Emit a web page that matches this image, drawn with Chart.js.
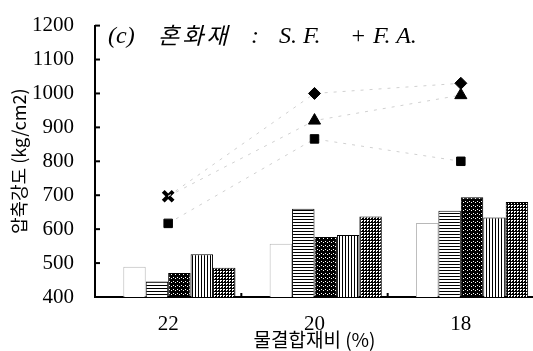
<!DOCTYPE html>
<html>
<head>
<meta charset="utf-8">
<script src="https://cdn.jsdelivr.net/npm/chart.js@4"></script>
<style>
  html, body { margin: 0; padding: 0; background: #fff; overflow: hidden; }
  #wrap { position: relative; width: 545px; height: 351px; }
  #title { position: absolute; left: 0; top: 0; color: #000; }
  #title span {
    position: absolute; top: 21px; white-space: pre;
    font: italic 24px "Liberation Serif", serif; line-height: 28px;
  }
  #title span.ko { font-family: "Noto Sans CJK KR", sans-serif; font-size: 23px; letter-spacing: 3px; top: 20px; }
</style>
</head>
<body>
<div id="wrap">
  <canvas id="chart"></canvas>
  <div id="title"><span style="left:108px">(c)</span><span class="ko" style="left:158px">혼화재</span><span style="left:251px">:</span><span style="left:279px">S. F.</span><span style="left:350px">+</span><span style="left:373px">F. A.</span></div>
</div>
<script>
// 물결합재비 카테고리
const categories = ['22', '20', '18'];

// 막대 (압축강도, kg/cm2) — 첫 계열은 보이지 않음
const bar0 = [null, null, null];
const bar1 = [489, 557, 618];
const bar2 = [446, 660, 654];
const bar3 = [471, 577, 694];
const bar4 = [526, 583, 634];
const bar5 = [486, 637, 680];

// 점 계열
const diamondVals  = [697, 1000, 1030];
const triangleVals = [697, 920, 995];
const squareVals   = [617, 866, 800];
const crossVals    = [697, null, null];

// y축 범위
const Y_MIN = 400, Y_MAX = 1200, Y_STEP = 100;

/* ─── 패턴 ─── */
function makePattern(size, draw) {
  const c = document.createElement('canvas');
  c.width = c.height = size;
  const g = c.getContext('2d');
  g.fillStyle = '#fff';
  g.fillRect(0, 0, size, size);
  g.fillStyle = '#000';
  draw(g, size);
  return document.createElement('canvas').getContext('2d').createPattern(c, 'repeat');
}
const patHoriz = makePattern(3, (g, s) => g.fillRect(0, 0, s, 1));
const patDark  = makePattern(4, (g, s) => {
  g.fillRect(0, 0, s, s);
  g.fillStyle = '#fff';
  g.fillRect(1, 1, 1, 1);
  g.fillRect(3, 2, 1, 1);
});
const patVert  = makePattern(3, (g, s) => g.fillRect(0, 0, 1, s));
const patGrid  = makePattern(3, (g, s) => { g.fillRect(0, 0, s, 1); g.fillRect(0, 0, 1, s); g.fillRect(2, 2, 1, 1); });

function barSet(label, data, fill, border) {
  return {
    type: 'bar', label, data,
    backgroundColor: fill,
    borderColor: border,
    borderWidth: 1,
    order: 2
  };
}
function pointSet(label, data, style, radius, extra = {}) {
  return {
    type: 'line', label, data,
    pointStyle: style,
    pointRadius: radius,
    pointBackgroundColor: '#000',
    pointBorderColor: '#000',
    borderColor: '#d0d0d0',
    borderWidth: 1,
    borderDash: [3, 6],
    fill: false,
    tension: 0,
    order: 1,
    ...extra
  };
}

// 축 안쪽 눈금
const innerTicks = {
  id: 'innerTicks',
  afterDraw(chart) {
    const { ctx, chartArea: a, scales: { x, y } } = chart;
    ctx.save();
    ctx.strokeStyle = '#000';
    ctx.lineWidth = 2;
    y.ticks.forEach(t => {
      const py = y.getPixelForValue(t.value);
      ctx.beginPath(); ctx.moveTo(a.left, py); ctx.lineTo(a.left + 5, py); ctx.stroke();
    });
    for (let i = 0; i <= categories.length; i++) {
      const px = x.getPixelForValue(i - 0.5);
      ctx.beginPath(); ctx.moveTo(px, a.bottom); ctx.lineTo(px, a.bottom - 4); ctx.stroke();
    }
    ctx.restore();
  }
};

new Chart(document.getElementById('chart'), {
  data: {
    labels: categories,
    datasets: [
      barSet('계열 0', bar0, '#fff', '#fff'),
      barSet('계열 1', bar1, '#fff', '#b8b8b8'),
      barSet('계열 2', bar2, patHoriz, '#000'),
      barSet('계열 3', bar3, patDark, '#000'),
      barSet('계열 4', bar4, patVert, '#000'),
      barSet('계열 5', bar5, patGrid, '#000'),
      pointSet('◆', diamondVals, 'rectRot', [0, 6, 6]),
      pointSet('▲', triangleVals, 'triangle', [0, 7, 7]),
      pointSet('■', squareVals, 'rect', 6),
      pointSet('×', crossVals, 'crossRot', 7, { pointBorderWidth: 4, showLine: false })
    ]
  },
  options: {
    responsive: true,
    maintainAspectRatio: false,
    animation: false,
    layout: { padding: { top: 17, right: 9, left: 0, bottom: 0 } },
    datasets: { bar: { categoryPercentage: 0.92, barPercentage: 1 } },
    plugins: { legend: { display: false }, tooltip: { enabled: false } },
    scales: {
      x: {
        type: 'category',
        offset: true,
        grid: { display: false },
        border: { color: '#000', width: 2 },
        ticks: { color: '#000', font: { family: 'Liberation Serif', size: 21 }, padding: 7, maxRotation: 0 },
        title: {
          display: true, text: '물결합재비 (%)', color: '#000',
          font: { family: 'Noto Sans CJK KR', size: 19 }, padding: { top: 0, bottom: 0 }
        },
        afterFit: s => { s.height = 54; }
      },
      y: {
        min: Y_MIN, max: Y_MAX,
        grid: { display: false },
        border: { color: '#000', width: 2 },
        ticks: {
          stepSize: Y_STEP, color: '#000',
          font: { family: 'Liberation Serif', size: 21 }, padding: 13,
          callback: v => String(v)
        },
        title: {
          display: true, text: '압축강도 (kg/cm2)', color: '#000',
          font: { family: 'Noto Sans CJK KR', size: 18 }, padding: { top: 8, bottom: 0 }
        },
        afterFit: s => { s.width = 95; }
      }
    }
  },
  plugins: [innerTicks]
});
</script>
</body>
</html>
